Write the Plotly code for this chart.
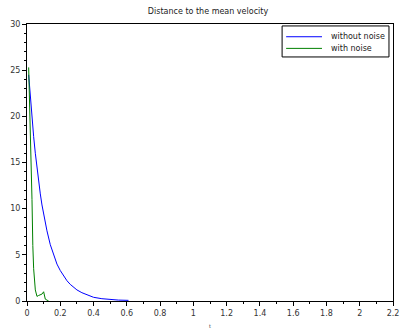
import plotly.graph_objects as go

t_blue = [0.01, 0.02, 0.03, 0.04, 0.05, 0.06, 0.07, 0.08, 0.09, 0.10, 0.12, 0.14, 0.16,
          0.18, 0.20, 0.22, 0.24, 0.26, 0.28, 0.30, 0.33, 0.36, 0.40, 0.45, 0.50, 0.55, 0.61]
v_blue = [24.5, 22.0, 19.8, 17.8, 16.0, 14.4, 12.9, 11.6, 10.4, 9.4, 7.6, 6.1, 5.0,
          4.0, 3.3, 2.7, 2.2, 1.8, 1.45, 1.2, 0.9, 0.65, 0.4, 0.25, 0.15, 0.1, 0.07]

t_green = [0.01, 0.015, 0.02, 0.025, 0.03, 0.035, 0.04, 0.05, 0.06, 0.07, 0.08, 0.09,
           0.10, 0.11, 0.12, 0.13]
v_green = [25.3, 22.0, 18.5, 14.8, 11.0, 6.0, 3.5, 1.2, 0.5, 0.6, 0.7, 0.75,
           1.0, 0.2, 0.1, 0.0]

x_ticks = [0, 0.2, 0.4, 0.6, 0.8, 1.0, 1.2, 1.4, 1.6, 1.8, 2.0, 2.2]
x_labels = ["0", "0.2", "0.4", "0.6", "0.8", "1", "1.2", "1.4", "1.6", "1.8", "2", "2.2"]
y_ticks = [0, 5, 10, 15, 20, 25, 30]

series_names = ["without noise", "with noise"]
series_colors = ["rgb(0,0,255)", "rgb(0,128,0)"]

font = "DejaVu Sans"

fig = go.Figure()
fig.add_trace(go.Scatter(x=t_blue, y=v_blue, mode="lines", name=series_names[0],
                         line=dict(color=series_colors[0], width=1)))
fig.add_trace(go.Scatter(x=t_green, y=v_green, mode="lines", name=series_names[1],
                         line=dict(color=series_colors[1], width=1)))

axis_common = dict(showgrid=False, zeroline=False, showline=True, linecolor="black",
                   linewidth=1, mirror=True, ticks="outside", ticklen=4,
                   tickcolor="black", automargin=False, ticklabeloverflow="allow",
                   tickfont=dict(family=font, size=8, color="#333"))

# Legend drawn as a framed box (Scilab style, compact rows)
shapes = [dict(type="rect", xref="paper", yref="paper", x0=0.697, x1=0.989,
               y0=0.881, y1=0.993, line=dict(color="black", width=1),
               fillcolor="white", layer="above")]
annotations = []
row_y = [0.954, 0.912]
for name, color, yy in zip(series_names, series_colors, row_y):
    shapes.append(dict(type="line", xref="paper", yref="paper", x0=0.708, x1=0.806,
                       y0=yy, y1=yy, line=dict(color=color, width=1), layer="above"))
    annotations.append(dict(text=name, xref="paper", yref="paper", x=0.826, y=yy,
                            xanchor="left", yanchor="middle", showarrow=False,
                            font=dict(family=font, size=8, color="#222")))

W, H = 400, 329
fig.update_layout(
    width=W, height=H,
    margin=dict(l=27, r=7, t=24, b=28, autoexpand=False),
    paper_bgcolor="white", plot_bgcolor="white",
    title=dict(text="Distance to the mean velocity", x=0.52, xanchor="center",
               yref="container", y=1 - 11 / H, yanchor="middle", automargin=False,
               font=dict(family=font, size=8, color="#222")),
    xaxis=dict(range=[0, 2.2], tickvals=x_ticks, ticktext=x_labels,
               minor=dict(dtick=0.1, ticks="outside", ticklen=2, tickcolor="black"),
               title=dict(text="t", font=dict(family=font, size=5, color="#333"), standoff=11),
               **axis_common),
    yaxis=dict(range=[0, 30], tickvals=y_ticks,
               minor=dict(dtick=1, ticks="outside", ticklen=2, tickcolor="black"),
               **axis_common),
    shapes=shapes,
    annotations=annotations,
    showlegend=False,
)

fig.write_html(
    "out.html",
    config={"displayModeBar": False},
    post_script="document.body.style.margin='0';document.body.style.overflow='hidden';",
)
